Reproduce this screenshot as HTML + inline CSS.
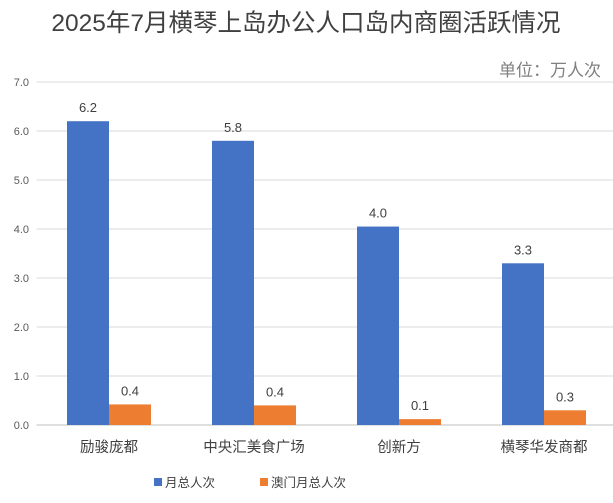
<!DOCTYPE html>
<html><head><meta charset="utf-8">
<style>
body{margin:0;background:#fff;}
svg text{font-family:"Liberation Sans","Noto Sans CJK SC",sans-serif;}
</style></head>
<body>
<svg width="613" height="498" xmlns="http://www.w3.org/2000/svg">
<rect width="613" height="498" fill="#fff"/>
<text x="306" y="31" text-anchor="middle" font-size="24.5" fill="#404040">2025年7月横琴上岛办公人口岛内商圈活跃情况</text>
<text x="601" y="76" text-anchor="end" font-size="17" fill="#808080">单位：万人次</text>
<g id="grid"></g>
<g id="bars"></g>
<g id="legend">
<rect x="154" y="478" width="8" height="8" fill="#4472C4"/>
<text x="165" y="487" font-size="12.5" fill="#404040">月总人次</text>
<rect x="260" y="478" width="8" height="8" fill="#ED7D31"/>
<text x="271" y="487" font-size="12.5" fill="#404040">澳门月总人次</text>
</g>
</svg>
<script>
const categories=["励骏庞都","中央汇美食广场","创新方","横琴华发商都"];
const totalValues=[6.2,5.8,4.05,3.3];
const totalLabels=["6.2","5.8","4.0","3.3"];
const macauValues=[0.42,0.4,0.12,0.3];
const macauLabels=["0.4","0.4","0.1","0.3"];
const yTicks=[0,1,2,3,4,5,6,7];
const NS="http://www.w3.org/2000/svg";
const x0=36.5,groupW=145,y0=425,unit=49,barW=42;
function yScale(v){return y0-v*unit;}
function xCenter(i){return x0+groupW*(i+0.5);}
function mk(tag,attrs,parent,txt){const e=document.createElementNS(NS,tag);for(const k in attrs)e.setAttribute(k,attrs[k]);if(txt!==undefined)e.textContent=txt;parent.appendChild(e);return e;}
const grid=document.getElementById('grid'),bars=document.getElementById('bars');
yTicks.forEach(t=>{
 const l=mk('line',{x1:x0,x2:613,y1:yScale(t),y2:yScale(t),stroke:t===0?'#bfbfbf':'#d9d9d9','stroke-width':1},grid);
 
 
 const tx=mk('text',{x:29,y:yScale(t)+4,'text-anchor':'end','font-size':11,fill:'#595959'},grid,t.toFixed(1));
 
 
});
categories.forEach((c,i)=>{
 const cx=xCenter(i);
 const b=mk('rect',{x:cx-barW,y:yScale(totalValues[i]),width:barW,height:totalValues[i]*unit,fill:'#4472C4'},bars);
 
 
 const o=mk('rect',{x:cx,y:yScale(macauValues[i]),width:barW,height:macauValues[i]*unit,fill:'#ED7D31'},bars);
 
 
 const lt=mk('text',{x:cx-barW/2,y:yScale(totalValues[i])-9,'text-anchor':'middle','font-size':13,fill:'#404040'},bars,totalLabels[i]);
 
 
 const lm=mk('text',{x:cx+barW/2,y:yScale(macauValues[i])-9,'text-anchor':'middle','font-size':13,fill:'#404040'},bars,macauLabels[i]);
 
 
 const cl=mk('text',{x:cx,y:452,'text-anchor':'middle','font-size':14.5,fill:'#404040'},bars,c);
 
 
});
</script>
</body></html>
